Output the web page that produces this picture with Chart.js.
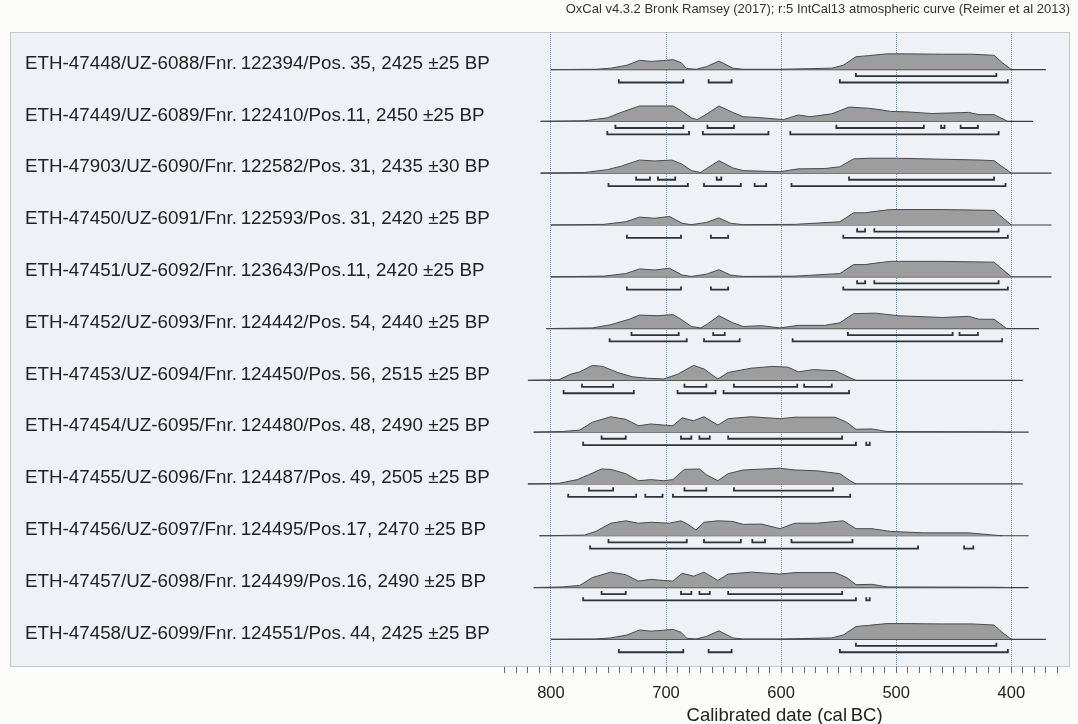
<!DOCTYPE html>
<html>
<head>
<meta charset="utf-8">
<script src="https://cdn.jsdelivr.net/npm/chart.js@4.4.0/dist/chart.umd.min.js"></script>
<style>
  html, body { margin: 0; padding: 0; background: #fcfcfb; }
  #wrap { width: 1078px; height: 724px; }
</style>
</head>
<body>
<div id="wrap"><canvas id="oxcal"></canvas></div>
<script>
// sample labels, top to bottom
const sampleLabels = [
    'ETH-47448/UZ-6088/Fnr.\u2009122394/Pos.\u200935, 2425 ±25 BP',
    'ETH-47449/UZ-6089/Fnr.\u2009122410/Pos.11, 2450 ±25 BP',
    'ETH-47903/UZ-6090/Fnr.\u2009122582/Pos.\u200931, 2435 ±30 BP',
    'ETH-47450/UZ-6091/Fnr.\u2009122593/Pos.\u200931, 2420 ±25 BP',
    'ETH-47451/UZ-6092/Fnr.\u2009123643/Pos.11, 2420 ±25 BP',
    'ETH-47452/UZ-6093/Fnr.\u2009124442/Pos.\u200954, 2440 ±25 BP',
    'ETH-47453/UZ-6094/Fnr.\u2009124450/Pos.\u200956, 2515 ±25 BP',
    'ETH-47454/UZ-6095/Fnr.\u2009124480/Pos.\u200948, 2490 ±25 BP',
    'ETH-47455/UZ-6096/Fnr.\u2009124487/Pos.\u200949, 2505 ±25 BP',
    'ETH-47456/UZ-6097/Fnr.\u2009124495/Pos.17, 2470 ±25 BP',
    'ETH-47457/UZ-6098/Fnr.\u2009124499/Pos.16, 2490 ±25 BP',
    'ETH-47458/UZ-6099/Fnr.\u2009124551/Pos.\u200944, 2425 ±25 BP'
];

// extent of each calibration (cal BC)
const rangeFrom = [800, 809, 809, 800, 800, 804, 820, 815, 820, 810, 815, 800];
const rangeTo   = [370, 381, 365, 365, 365, 376, 390, 385, 390, 385, 385, 370];

// probability distributions: [cal BC, relative probability %]
const d2425 = [[800,0],[761,2],[748,9],[734,27],[723,58],[713,51],[703,56],[694,62],[687,44],[682,7],[674,2],[665,18],[654,53],[642,9],[633,2],[601,2],[556,9],[546,27],[535,80],[524,87],[508,98],[492,98],[460,96],[434,96],[415,89],[408,44],[400,0]];
const d2450 = [[809,0],[771,4],[751,22],[739,56],[723,96],[694,96],[687,67],[678,22],[673,11],[665,44],[654,96],[642,56],[633,29],[620,24],[606,16],[598,11],[585,40],[575,29],[556,47],[541,89],[524,82],[514,73],[505,62],[492,60],[469,49],[437,56],[428,42],[415,42],[403,0]];
const d2435 = [[809,0],[771,4],[751,22],[739,44],[723,82],[710,76],[695,82],[686,56],[678,16],[670,4],[654,78],[642,33],[633,16],[601,9],[585,27],[562,29],[549,40],[537,89],[524,93],[498,93],[460,87],[428,82],[415,78],[400,0]];
const d2420 = [[800,0],[754,4],[735,20],[723,49],[710,42],[697,53],[686,11],[678,2],[665,16],[654,44],[644,11],[633,2],[588,4],[549,20],[537,76],[527,76],[521,82],[505,96],[460,96],[415,91],[400,0]];
const d2440 = [[804,0],[764,4],[748,24],[732,58],[723,84],[707,80],[694,87],[687,58],[678,13],[670,4],[665,24],[654,80],[642,36],[633,13],[617,18],[601,4],[585,20],[562,20],[549,36],[537,93],[518,96],[498,80],[460,69],[437,76],[428,58],[415,58],[404,0]];
const d2515 = [[820,0],[793,4],[783,38],[775,53],[764,93],[755,87],[742,49],[729,22],[716,13],[702,9],[690,38],[676,93],[667,71],[655,9],[646,49],[626,76],[607,87],[594,82],[585,53],[572,67],[553,60],[540,16],[535,0]];
const d2490 = [[815,0],[790,4],[775,13],[764,62],[748,96],[735,80],[724,40],[713,51],[702,44],[694,40],[686,89],[676,71],[667,96],[655,44],[646,84],[626,96],[601,84],[588,93],[553,93],[543,62],[535,18],[521,20],[508,4],[415,2],[400,0]];
const d2505 = [[820,0],[793,4],[777,27],[767,58],[756,93],[748,91],[735,64],[724,20],[713,27],[702,20],[694,27],[684,91],[671,93],[665,58],[655,20],[646,64],[633,87],[601,98],[588,87],[569,82],[549,64],[540,20],[535,0]];
const d2470 = [[810,0],[771,4],[761,27],[748,78],[735,93],[724,78],[713,84],[697,78],[687,93],[681,71],[674,36],[667,84],[655,93],[642,89],[633,71],[617,73],[601,44],[588,78],[569,78],[546,93],[535,44],[521,44],[505,27],[476,18],[437,18],[415,4],[408,0]];

const distributions = [d2425, d2450, d2435, d2420, d2420, d2440, d2515, d2490, d2505, d2470, d2490, d2425];

// 68.2% ranges (upper brackets) and 95.4% ranges (lower brackets), cal BC
const ranges68 = [
    [[535,413]],
    [[744,685],[664,641],[552,476],[461,458],[444,429]],
    [[726,714],[707,692],[656,652],[541,415]],
    [[534,527],[519,411]],
    [[534,527],[519,411]],
    [[730,689],[659,649],[542,451],[445,429]],
    [[773,746],[684,665],[641,586],[580,556]],
    [[756,735],[687,678],[671,662],[646,547]],
    [[767,746],[684,665],[641,555]],
    [[750,682],[667,635],[625,614],[591,538]],
    [[756,735],[687,678],[671,662],[646,547]],
    [[535,413]]
];
const ranges95 = [
    [[741,685],[663,643],[549,403]],
    [[751,680],[668,611],[592,411]],
    [[750,681],[667,635],[623,613],[591,405]],
    [[734,687],[661,646],[546,403]],
    [[734,687],[661,646],[546,403]],
    [[749,682],[667,636],[590,408]],
    [[789,728],[690,657],[650,541]],
    [[772,535],[526,523]],
    [[785,726],[718,703],[694,540]],
    [[766,481],[441,433]],
    [[772,535],[526,523]],
    [[741,685],[663,643],[549,403]]
];

const majorTicks = [800, 700, 600, 500, 400];

// row layout in y units (one unit = one row)
const Y_MAX = 12.26;
const FIRST_ROW = 0.726;
const PEAK = 0.31;     // height of 100% probability
const OFF68 = 0.127;
const OFF95 = 0.249;
const HOOK = 0.062;

const FONT = '"Liberation Sans", Arial, Helvetica, sans-serif';
Chart.defaults.font.family = FONT;

const datasets = [];
distributions.forEach((dist, i) => {
    const base = FIRST_ROW + i;
    datasets.push({
        data: dist.map(p => ({ x: p[0], y: base - p[1] / 100 * PEAK })),
        fill: { value: base },
        backgroundColor: '#9d9d9d',
        borderColor: '#4a4a4a',
        borderWidth: 1,
        pointRadius: 0,
        tension: 0
    });
    datasets.push({
        data: [{ x: rangeFrom[i], y: base }, { x: rangeTo[i], y: base }],
        borderColor: '#3c3c3c',
        borderWidth: 1.2,
        pointRadius: 0,
        fill: false
    });
    [[ranges68[i], OFF68], [ranges95[i], OFF95]].forEach(([list, off]) => {
        const y = base + off;
        const pts = [];
        list.forEach(([s, e]) => {
            pts.push({ x: s, y: y - HOOK }, { x: s, y: y }, { x: e, y: y }, { x: e, y: y - HOOK }, { x: e, y: null });
        });
        datasets.push({
            data: pts,
            borderColor: '#333333',
            borderWidth: 1.8,
            pointRadius: 0,
            fill: false,
            spanGaps: false
        });
    });
});

// box background, border, row labels, axis title
const oxcalDecor = {
    id: 'oxcalDecor',
    beforeDraw(chart) {
        const { ctx, chartArea: a } = chart;
        ctx.save();
        ctx.fillStyle = '#eef1f6';
        ctx.fillRect(a.left, a.top, a.right - a.left, a.bottom - a.top);
        ctx.restore();
    },
    afterDraw(chart) {
        const { ctx, chartArea: a, scales } = chart;
        ctx.save();
        ctx.strokeStyle = '#9a9a9a';
        ctx.lineWidth = 1;
        ctx.setLineDash([1, 1]);
        ctx.strokeRect(a.left + 0.5, a.top + 0.5, a.right - a.left - 1, a.bottom - a.top - 1);
        ctx.setLineDash([]);

        ctx.fillStyle = '#222';
        ctx.font = '18.8px ' + FONT;
        ctx.textAlign = 'left';
        ctx.textBaseline = 'middle';
        sampleLabels.forEach((txt, i) => {
            const y = scales.y.getPixelForValue(FIRST_ROW + i) - 6;
            ctx.fillText(txt, a.left + 15, y);
        });

        ctx.textAlign = 'center';
        ctx.font = '18.5px ' + FONT;
        ctx.fillText('Calibrated date (cal\u2009BC)', scales.x.getPixelForValue(597), 716);
        ctx.restore();
    }
};

new Chart(document.getElementById('oxcal'), {
    type: 'line',
    data: { datasets: datasets },
    options: {
        responsive: true,
        maintainAspectRatio: false,
        animation: false,
        layout: { padding: { left: 10, right: 8, top: 0, bottom: 0 } },
        plugins: {
            legend: { display: false },
            tooltip: { enabled: false },
            title: {
                display: true,
                text: 'OxCal v4.3.2 Bronk Ramsey (2017); r:5 IntCal13 atmospheric curve (Reimer et al 2013)',
                align: 'end',
                color: '#333',
                font: { size: 13, weight: 'normal' },
                padding: { top: 2, bottom: 14.4 }
            }
        },
        scales: {
            x: {
                type: 'linear',
                min: 349,
                max: 1270,
                reverse: true,
                z: 1,
                afterFit: scale => {
                    scale.height = 57;
                    scale.paddingLeft = 0;
                    scale.paddingRight = 0;
                },
                border: { display: false, dash: [1, 1] },
                grid: {
                    color: c => majorTicks.includes(c.tick.value) ? '#7a8ea8' : 'rgba(0,0,0,0)',
                    lineWidth: 1,
                    tickLength: 6,
                    tickWidth: 1,
                    tickBorderDash: [],
                    tickColor: c => (c.tick.value >= 350 && c.tick.value <= 840) ? '#666' : 'rgba(0,0,0,0)'
                },
                ticks: {
                    stepSize: 10,
                    autoSkip: false,
                    maxRotation: 0,
                    padding: 11,
                    color: '#222',
                    font: { size: 16.5 },
                    callback: v => majorTicks.includes(v) ? String(v) : ''
                }
            },
            y: {
                type: 'linear',
                min: 0,
                max: Y_MAX,
                reverse: true,
                display: false
            }
        }
    },
    plugins: [oxcalDecor]
});
</script>
</body>
</html>
